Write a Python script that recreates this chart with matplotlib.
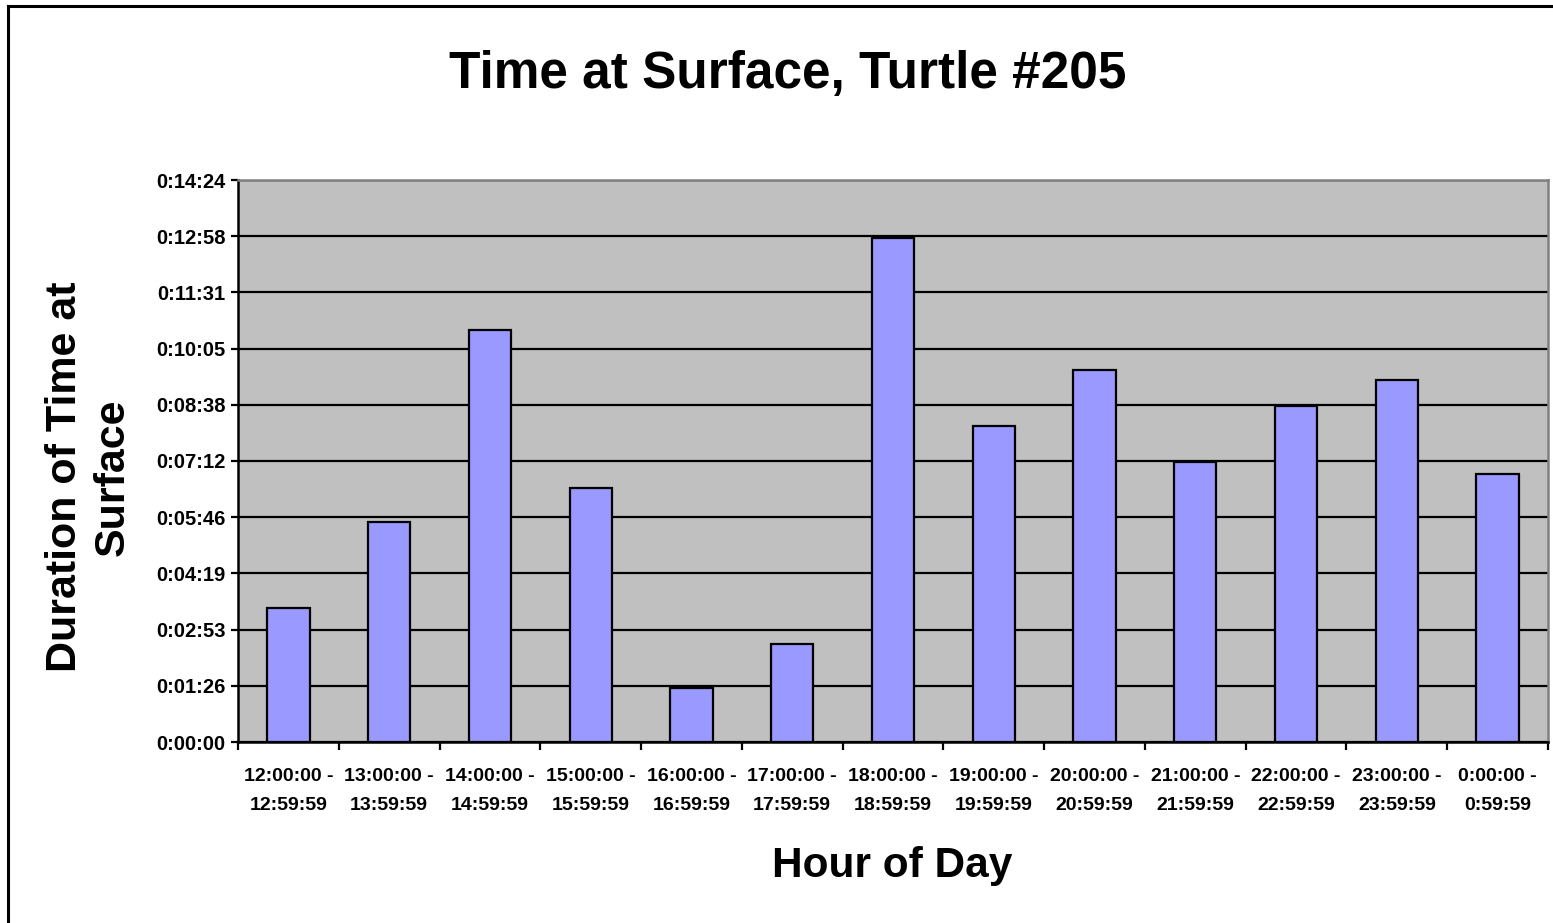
import matplotlib
matplotlib.use("Agg")
import matplotlib.pyplot as plt
from matplotlib.ticker import FuncFormatter, MultipleLocator, FixedLocator
from matplotlib.lines import Line2D
import numpy as np

plt.rcParams['font.family'] = ['Liberation Sans', 'DejaVu Sans']
plt.rcParams['font.weight'] = 'bold'

# hour bins
hour_labels = ["12:00:00 -\n12:59:59", "13:00:00 -\n13:59:59", "14:00:00 -\n14:59:59",
               "15:00:00 -\n15:59:59", "16:00:00 -\n16:59:59", "17:00:00 -\n17:59:59",
               "18:00:00 -\n18:59:59", "19:00:00 -\n19:59:59", "20:00:00 -\n20:59:59",
               "21:00:00 -\n21:59:59", "22:00:00 -\n22:59:59", "23:00:00 -\n23:59:59",
               "0:00:00 -\n0:59:59"]
# time at surface per hour, in seconds
surface_sec = [206, 338, 633, 390, 83, 151, 775, 486, 572, 430, 517, 557, 412]

y_step = 86.4      # 0.001 day, as in the spreadsheet axis
y_max = 864


def hms(v, pos=None):
    s = int(round(v))
    return "%d:%02d:%02d" % (s // 3600, (s % 3600) // 60, s % 60)


fig = plt.figure(figsize=(15.53, 9.23), dpi=100)
ax = fig.add_axes([238 / 1553, 1 - 742 / 923, 1310 / 1553, 562 / 923])
ax.set_facecolor('#C0C0C0')

x = np.arange(len(hour_labels))
ax.bar(x, surface_sec, width=0.42, color='#9999FF', edgecolor='black', linewidth=1.6, zorder=3)

ax.set_xlim(-0.5, len(hour_labels) - 0.5)
ax.set_ylim(0, y_max)

ax.yaxis.set_major_locator(MultipleLocator(y_step))
ax.yaxis.set_major_formatter(FuncFormatter(hms))
ax.set_axisbelow(True)
ax.yaxis.grid(True, color='black', linewidth=1.6)

ax.set_xticks(x)
ax.set_xticklabels(hour_labels, fontsize=14, linespacing=1.9)
ax.xaxis.set_minor_locator(FixedLocator(np.arange(-0.5, len(hour_labels), 1.0)))
ax.tick_params(axis='x', which='major', length=0, pad=19)
ax.tick_params(axis='x', which='minor', length=6, width=1.6, direction='out')
ax.tick_params(axis='y', length=5, width=1.6, direction='out', pad=4, labelsize=14.5)
for lab in ax.get_yticklabels() + ax.get_xticklabels():
    lab.set_fontweight('bold')

for side in ['left', 'bottom']:
    ax.spines[side].set_color('black')
    ax.spines[side].set_linewidth(1.8)
for side in ['top', 'right']:
    ax.spines[side].set_color('#808080')
    ax.spines[side].set_linewidth(1.8)

fig.text(0.507, 1 - 74 / 923, "Time at Surface, Turtle #205", fontsize=37,
         fontweight='bold', ha='center', va='center')
fig.text(892 / 1553, 1 - 866 / 923, "Hour of Day", fontsize=30.5,
         fontweight='bold', ha='center', va='center')
fig.text(89 / 1553, 1 - 477 / 923, "Duration of Time at\nSurface", fontsize=31,
         fontweight='bold', ha='center', va='center', rotation=90,
         multialignment='center', linespacing=1.25)

# chart-area border (only left and top edges are visible in the crop)
fig.add_artist(Line2D([8 / 1553, 8 / 1553], [0, 1 - 6 / 923], color='black', linewidth=2.2))
fig.add_artist(Line2D([8 / 1553, 1], [1 - 6 / 923, 1 - 6 / 923], color='black', linewidth=2.2))

fig.savefig("out.png", dpi=100)
